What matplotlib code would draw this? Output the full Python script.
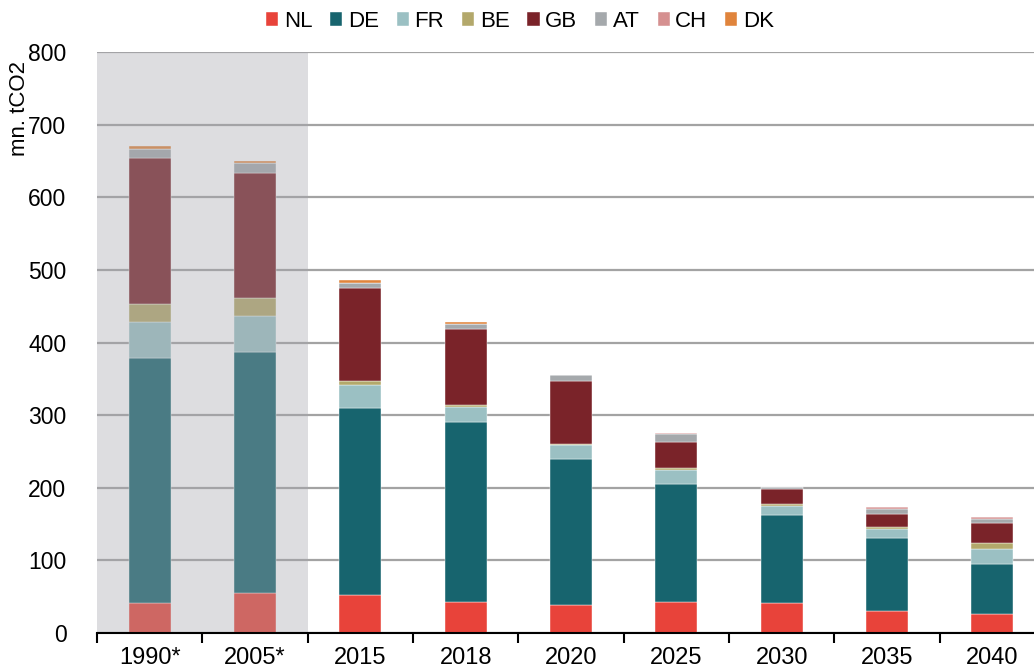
import matplotlib
matplotlib.use("Agg")
import matplotlib.pyplot as plt
import numpy as np

plt.rcParams['font.family'] = ['Liberation Sans', 'DejaVu Sans']

categories = ["1990*", "2005*", "2015", "2018", "2020", "2025", "2030", "2035", "2040"]
series_names = ["NL", "DE", "FR", "BE", "GB", "AT", "CH", "DK"]
NL = [41, 55, 52, 42, 38.5, 42.5, 41, 30, 26]
DE = [337, 332, 258, 248.5, 201.5, 162.5, 121.5, 101, 69]
FR = [50, 49.5, 31.5, 20.5, 18.5, 19, 12.5, 12, 21]
BE = [25, 24.5, 5.5, 2.5, 1.5, 3, 2.5, 3.4, 8.4]
GB = [201, 172, 127.6, 105, 87, 36.5, 20.4, 18, 27]
AT = [12.5, 14.5, 7.4, 7, 8, 10.5, 3, 7, 6]
CH = [0, 0, 0.5, 0.5, 0.5, 1, 0.5, 2, 2.5]
DK = [4, 2.5, 4, 2.5, 0.3, 0, 0, 0, 0]
colors = ["#e8433a", "#17646e", "#9bc0c3", "#b3a86b", "#7a2329", "#a5a9ac", "#d59090", "#e0843c"]

data = [NL, DE, FR, BE, GB, AT, CH, DK]

fig = plt.figure(figsize=(10.34, 6.68), dpi=100)
W, H = 1034, 668
ax = fig.add_axes([97 / W, (H - 633) / H, (1045 - 97) / W, (633 - 52) / H])

x = np.arange(len(categories))
bottom = np.zeros(len(categories))
handles = []
for name, vals, c in zip(series_names, data, colors):
    v = np.array(vals, dtype=float)
    b = ax.bar(x, v, width=0.40, bottom=bottom, color=c, label=name, zorder=3,
               edgecolor='white', linewidth=0.3)
    handles.append(b)
    bottom += v

ax.axvspan(-0.5, 1.5, color=(163 / 255, 165 / 255, 172 / 255), alpha=0.37, zorder=4, lw=0)

ax.set_xlim(-0.5, len(categories) - 0.5)
ax.set_ylim(0, 800)
ax.set_yticks(np.arange(0, 801, 100))
ax.yaxis.grid(True, color='#a3a3a3', linewidth=1.6, zorder=1)
ax.set_axisbelow(True)

for s in ['top', 'right', 'left']:
    ax.spines[s].set_visible(False)
ax.spines['bottom'].set_color('black')
ax.spines['bottom'].set_linewidth(1.5)
ax.spines['bottom'].set_zorder(6)

ax.set_xticks(x)
ax.set_xticklabels(categories, fontsize=17)
ax.tick_params(axis='x', which='major', length=0, pad=10)
ax.set_xticks(np.arange(-0.5, len(categories), 1), minor=True)
ax.tick_params(axis='x', which='minor', length=7, width=1.5, color='black', direction='out')
ax.tick_params(axis='y', length=0, pad=22, labelsize=16.5)

fig.text(20 / W, (H - 108) / H, "mn. tCO2", rotation=90, fontsize=16, ha='center', va='center')

fig.legend(handles=handles, labels=series_names, loc='center', bbox_to_anchor=(0.503, 0.968),
           ncol=8, frameon=False, fontsize=16, handlelength=0.55, handleheight=0.55,
           handletextpad=0.25, columnspacing=0.8)

fig.savefig("out.png", dpi=100)
